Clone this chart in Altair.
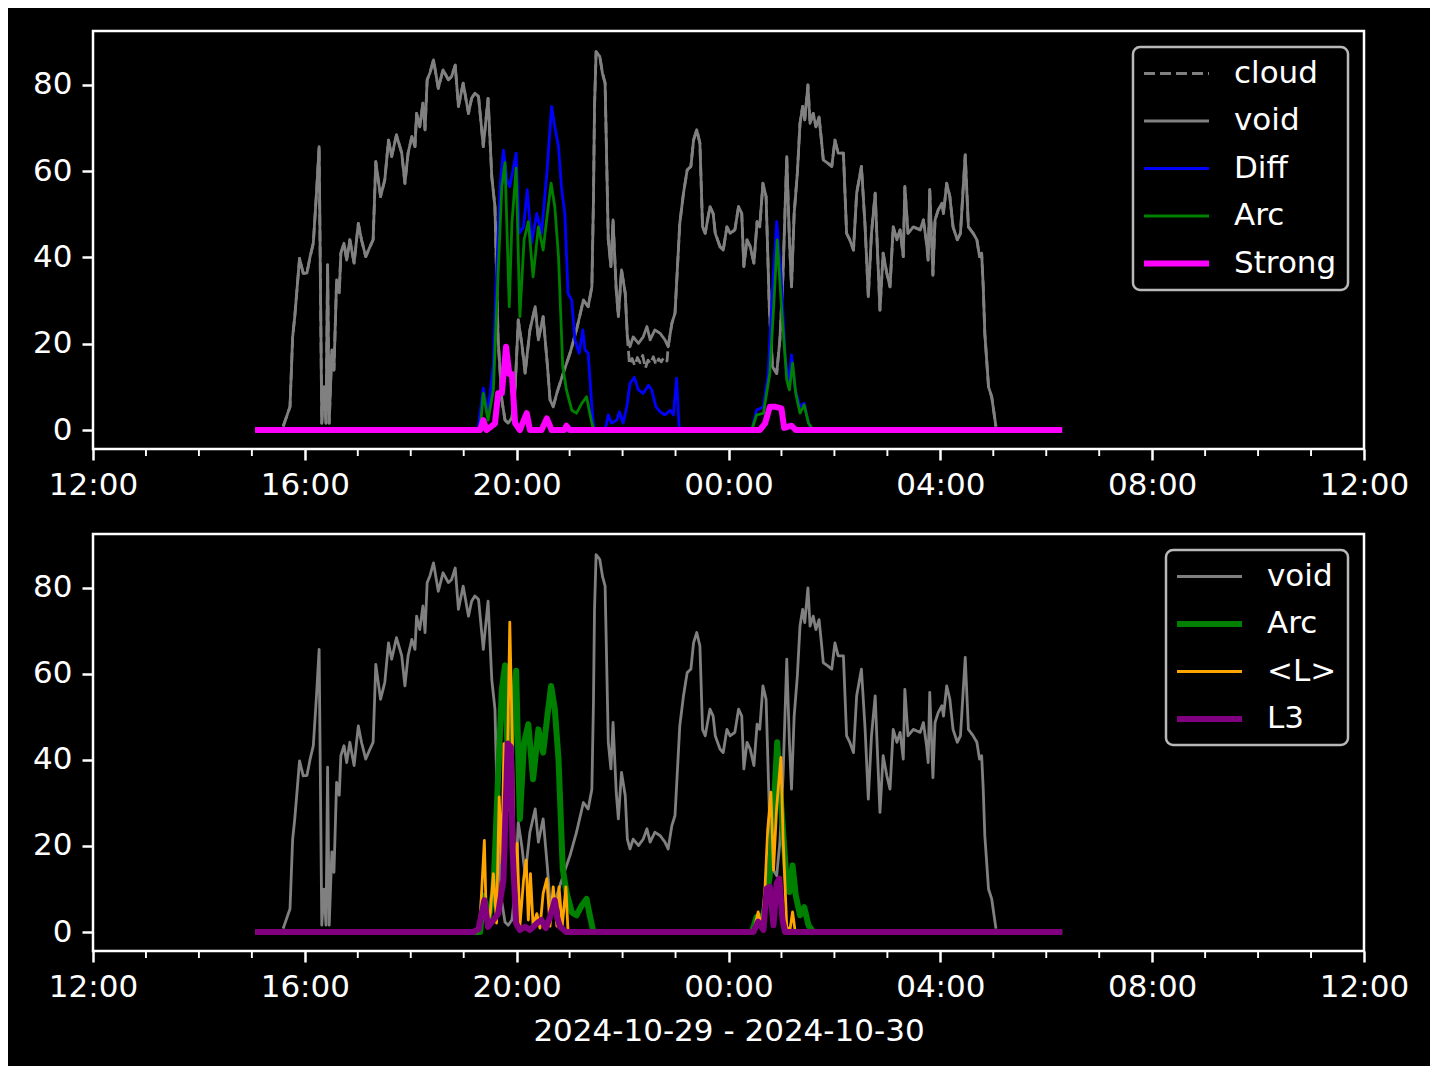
import altair as alt
import pandas as pd

# ---------------- data (hours since 2024-10-29 00:00, values) ----------------
void_h = [15.59, 15.72, 15.77, 15.81, 15.90, 15.97, 16.04, 16.10, 16.16, 16.22,
          16.27, 16.32, 16.36, 16.40, 16.43, 16.46, 16.51, 16.55, 16.60, 16.65,
          16.68, 16.74, 16.79, 16.85, 16.93, 17.01, 17.07, 17.15, 17.23, 17.29,
          17.34, 17.43, 17.51, 17.58, 17.64, 17.73, 17.83, 17.89, 17.95, 18.02,
          18.08, 18.11, 18.17, 18.23, 18.27, 18.31, 18.36, 18.43, 18.52, 18.61,
          18.71, 18.77, 18.84, 18.90, 18.99, 19.09, 19.15, 19.21, 19.28, 19.37,
          19.46, 19.53, 19.59, 19.65, 19.72, 19.78, 19.84, 19.91, 19.97, 20.03,
          20.10, 20.16, 20.25, 20.35, 20.41, 20.50, 20.58, 20.63, 20.69, 20.76,
          20.88, 21.01, 21.13, 21.26, 21.35, 21.42, 21.45, 21.47, 21.50, 21.57,
          21.62, 21.67, 21.73, 21.78, 21.82, 21.88, 21.92, 21.98, 22.05, 22.09,
          22.14, 22.20, 22.30, 22.39, 22.46, 22.52, 22.61, 22.71, 22.80, 22.86,
          22.93, 22.99, 23.03, 23.08, 23.15, 23.22, 23.29, 23.34, 23.40, 23.46,
          23.51, 23.56, 23.65, 23.71, 23.75, 23.84, 23.90, 23.97, 24.03, 24.12,
          24.19, 24.25, 24.29, 24.35, 24.41, 24.48, 24.54, 24.59, 24.65, 24.71,
          24.77, 24.83, 24.91, 24.97, 25.03, 25.10, 25.15, 25.19, 25.24, 25.30,
          25.35, 25.40, 25.44, 25.50, 25.54, 25.60, 25.65, 25.71, 25.76, 25.79,
          25.88, 25.95, 26.01, 26.07, 26.17, 26.23, 26.29, 26.36, 26.42, 26.51,
          26.58, 26.64, 26.70, 26.77, 26.81, 26.86, 26.92, 26.99, 27.05, 27.11,
          27.18, 27.24, 27.30, 27.33, 27.39, 27.49, 27.62, 27.68, 27.74, 27.77,
          27.80, 27.86, 27.90, 27.96, 28.03, 28.06, 28.12, 28.18, 28.24, 28.32,
          28.38, 28.47, 28.53, 28.62, 28.69, 28.74, 28.78, 28.81, 28.84, 28.91,
          28.97, 29.05]
void_v = [0.8, 5.4, 21.6, 26.3, 39.8, 36.3, 36.4, 40.2, 43.3, 54.9,
          65.7, 1.6, 10.0, 1.6, 38.3, 1.6, 18.6, 13.9, 34.8, 31.8,
          41.0, 43.3, 39.4, 44.1, 38.7, 47.9, 44.1, 40.2, 42.5, 44.1,
          62.2, 54.1, 58.0, 67.2, 63.4, 68.4, 64.2, 57.2, 64.2, 68.0,
          65.7, 73.4, 70.3, 75.8, 69.6, 81.2, 82.7, 85.8, 79.2, 83.5,
          81.2, 81.9, 84.6, 75.0, 80.4, 73.4, 76.9, 78.1, 77.3, 65.7,
          76.9, 58.7, 51.8, 20.9, 7.0, 2.3, 1.6, 2.8, 9.3, 25.5,
          19.7, 13.2, 23.2, 28.6, 20.9, 26.3, 15.1, 7.0, 5.4, 8.6,
          13.2, 17.9, 23.2, 30.1, 28.6, 33.2, 53.3, 75.0, 87.7, 86.6,
          82.7, 80.4, 44.1, 37.9, 48.7, 32.5, 26.3, 37.1, 31.7, 21.6,
          19.3, 21.6, 20.1, 21.6, 24.0, 20.9, 23.2, 22.4, 20.9, 19.3,
          24.7, 27.1, 36.3, 47.9, 54.9, 60.3, 61.1, 67.2, 69.6, 66.5,
          47.1, 45.6, 51.8, 50.2, 45.6, 42.5, 41.7, 47.1, 45.6, 46.4,
          51.8, 50.2, 37.9, 44.1, 42.5, 38.7, 48.3, 47.1, 57.2, 54.1,
          28.6, 14.7, 13.1, 20.9, 36.3, 63.4, 44.1, 33.2, 50.2, 59.5,
          71.1, 75.0, 71.9, 80.0, 71.1, 73.4, 70.3, 72.6, 66.5, 62.6,
          61.8, 61.1, 67.2, 64.2, 64.2, 45.6, 44.1, 41.7, 54.9, 61.1,
          47.1, 30.9, 45.6, 54.9, 42.5, 27.8, 41.0, 36.3, 33.2, 47.1,
          44.1, 46.4, 40.2, 56.4, 45.6, 47.1, 46.4, 48.7, 43.3, 39.4,
          55.7, 35.9, 48.7, 51.0, 52.6, 50.2, 57.2, 54.1, 47.1, 44.1,
          45.6, 63.8, 47.1, 45.6, 44.1, 40.2, 41.0, 33.2, 22.4, 10.0,
          7.7, 0.8]

# cloud differs from void only in this window (elsewhere it coincides with void)
cloud_seg_h = [22.13, 22.18, 22.23, 22.28, 22.33, 22.38, 22.43, 22.48,
               22.53, 22.58, 22.63, 22.68, 22.73, 22.78, 22.84]
cloud_seg_v = [15.2, 16.6, 14.9, 16.8, 15.6, 17.3, 14.3, 16.2,
               15.4, 17.0, 15.1, 16.5, 15.8, 16.9, 16.0]

diff_h = [15.06, 19.06, 19.27, 19.37, 19.46, 19.56, 19.62, 19.69, 19.75, 19.82,
          19.87, 19.99, 20.05, 20.13, 20.20, 20.28, 20.38, 20.47, 20.57, 20.66,
          20.72, 20.79, 20.85, 20.91, 20.97, 21.04, 21.10, 21.18, 21.25, 21.29,
          21.35, 21.42, 21.46, 21.67, 21.73, 21.79, 21.89, 21.94, 22.01, 22.08,
          22.14, 22.22, 22.30, 22.39, 22.49, 22.55, 22.63, 22.71, 22.80, 22.90,
          22.96, 23.02, 23.07, 24.44, 24.53, 24.66, 24.75, 24.83, 24.91, 24.99,
          25.07, 25.13, 25.19, 25.26, 25.35, 25.43, 25.51, 25.57, 30.30]
diff_v = [0, 0, 0, 9.7, 3.9, 15.5, 36.3, 57.2, 64.9, 58.0,
          56.4, 64.2, 45.6, 47.1, 55.7, 43.3, 50.2, 45.6, 59.5, 75.0,
          70.3, 65.7, 55.7, 50.2, 31.7, 30.1, 20.9, 17.8, 23.2, 18.6,
          17.8, 5.4, 0, 0, 3.5, 1.6, 2.3, 4.2, 1.6, 5.4,
          10.8, 12.2, 9.3, 8.5, 10.4, 9.3, 5.4, 4.2, 3.5, 4.6,
          3.5, 12.0, 0, 0, 4.6, 5.4, 13.1, 32.5, 48.3, 36.3,
          17.0, 10.8, 17.4, 9.3, 5.4, 6.2, 1.6, 0, 0]

arc_h = [15.06, 19.31, 19.37, 19.46, 19.56, 19.65, 19.72, 19.78, 19.86, 19.91,
         19.99, 20.06, 20.14, 20.22, 20.31, 20.41, 20.50, 20.58, 20.65, 20.72,
         20.79, 20.87, 20.94, 21.04, 21.13, 21.23, 21.32, 21.38, 21.45, 24.44,
         24.53, 24.66, 24.78, 24.86, 24.92, 25.00, 25.10, 25.15, 25.21, 25.27,
         25.35, 25.43, 25.51, 25.60, 30.30]
arc_v = [0, 0, 8.5, 2.3, 9.3, 36.3, 56.4, 62.0, 28.6, 47.9,
         60.7, 26.3, 44.1, 48.3, 35.5, 47.1, 41.7, 50.2, 57.2, 51.8,
         40.2, 14.7, 9.3, 4.6, 3.9, 6.2, 7.7, 3.9, 0, 0,
         3.5, 3.9, 13.1, 30.1, 44.1, 28.6, 11.6, 9.3, 15.5, 8.5,
         3.9, 5.8, 1.6, 0, 0]

strong_h = [15.06, 19.31, 19.37, 19.43, 19.59, 19.65, 19.72, 19.80, 19.86, 19.91,
            19.97, 20.06, 20.19, 20.25, 20.47, 20.57, 20.66, 20.90, 20.94, 21.00,
            24.59, 24.69, 24.78, 24.88, 25.00, 25.05, 25.19, 25.27, 30.30]
strong_v = [0, 0, 2.3, 0, 1.5, 8.5, 8.5, 19.3, 13.0, 13.0,
            1.6, 0, 3.9, 0, 0, 2.7, 0, 0, 1.0, 0,
            0, 1.5, 5.4, 5.4, 5.0, 0.5, 1.0, 0, 0]

lavg_h = [15.06, 19.25, 19.31, 19.39, 19.43, 19.50, 19.56, 19.62, 19.67, 19.72,
          19.76, 19.81, 19.87, 19.92, 19.97, 20.01, 20.06, 20.13, 20.18, 20.22,
          20.26, 20.31, 20.38, 20.44, 20.50, 20.57, 20.63, 20.69, 20.76, 20.80,
          20.86, 20.93, 20.97, 24.47, 24.56, 24.63, 24.69, 24.74, 24.80, 24.85,
          24.91, 24.99, 25.03, 25.10, 25.16, 25.21, 25.26, 30.30]
lavg_v = [0, 0, 2.8, 21.3, 1.2, 4.3, 13.6, 2.1, 31.4, 15.9,
          43.8, 27.5, 72.0, 43.0, 4.3, 20.6, 1.2, 12.1, 16.7, 2.8,
          13.6, 1.4, 4.3, 0.9, 9.0, 12.4, 1.4, 10.5, 1.4, 10.5,
          1.4, 10.5, 0, 0, 4.7, 0.9, 10.5, 23.7, 32.5, 14.4,
          29.1, 40.6, 22.1, 1.2, 0.5, 4.7, 0, 0]

l3_h = [15.06, 19.18, 19.28, 19.39, 19.46, 19.56, 19.65, 19.75, 19.83, 19.89,
        19.92, 19.99, 20.06, 20.16, 20.25, 20.38, 20.47, 20.55, 20.63, 20.72,
        20.77, 20.82, 20.94, 24.47, 24.56, 24.66, 24.72, 24.78, 24.85, 24.91,
        24.96, 25.02, 25.07, 30.30]
l3_v = [0, 0, 0.7, 7.4, 1.2, 2.8, 4.3, 12.1, 43.8, 43.0,
        19.8, 2.0, 0.5, 1.2, 0.5, 2.0, 2.8, 0.9, 3.5, 7.4,
        3.2, 1.2, 0, 0, 2.4, 0.5, 10.1, 10.5, 1.6, 11.3,
        12.4, 2.8, 0, 0]

major_hours = [12, 16, 20, 24, 28, 32, 36]
minor_hours = [13, 14, 15, 17, 18, 19, 21, 22, 23, 25, 26, 27, 29, 30, 31, 33, 34, 35]
y_ticks = [0, 20, 40, 60, 80]

top_series = ["cloud", "void", "Diff", "Arc", "Strong"]
top_colors = ["#808080", "#808080", "#0000ff", "#008000", "#ff00ff"]
top_dash = [[11, 5], [1, 0], [1, 0], [1, 0], [1, 0]]
top_width = [2.8, 2.8, 2.8, 2.8, 6.0]

bot_series = ["void", "Arc", "<L>", "L3"]
bot_colors = ["#808080", "#008000", "#ffa500", "#800080"]
bot_dash = [[1, 0], [1, 0], [1, 0], [1, 0]]
bot_width = [2.8, 6.0, 2.8, 6.0]

x_title = "2024-10-29 - 2024-10-30"

# ---------------- build tables ----------------
BASE = pd.Timestamp("2024-10-29")


def ts(hours):
    return [(BASE + pd.to_timedelta(h, unit="h")).strftime("%Y-%m-%dT%H:%M:%S") for h in hours]


def frame(name, hours, values):
    return pd.DataFrame({"time": ts(hours), "value": values, "series": name})


cloud_pts = ([(h, v) for h, v in zip(void_h, void_v) if h <= 22.09]
             + list(zip(cloud_seg_h, cloud_seg_v))
             + [(h, v) for h, v in zip(void_h, void_v) if h >= 22.86])
cloud_h = [p[0] for p in cloud_pts]
cloud_v = [p[1] for p in cloud_pts]

top_df = pd.concat([
    frame("cloud", cloud_h, cloud_v),
    frame("void", void_h, void_v),
    frame("Diff", diff_h, diff_v),
    frame("Arc", arc_h, arc_v),
    frame("Strong", strong_h, strong_v),
], ignore_index=True)

bot_df = pd.concat([
    frame("void", void_h, void_v),
    frame("Arc", arc_h, arc_v),
    frame("<L>", lavg_h, lavg_v),
    frame("L3", l3_h, l3_v),
], ignore_index=True)

minor_df = pd.DataFrame({"time": ts(minor_hours)})


def dt(h):
    t = BASE + pd.to_timedelta(h, unit="h")
    return alt.DateTime(year=t.year, month=t.month, date=t.day, hours=t.hour, minutes=t.minute)


FONT = "DejaVu Sans"
FS = 31
W = 1271


def panel(df, series, colors, dashes, widths, height, title):
    xscale = alt.Scale(domain=[dt(12), dt(36)])
    xaxis_kw = dict(values=[dt(h) for h in major_hours], format="%H:%M", formatType="time",
                    labelFlush=False, labelOverlap=False, minExtent=55, maxExtent=55)
    if title:
        xaxis = alt.Axis(title=title, titleFontSize=FS, titleFont=FONT, titleColor="white",
                         titleFontWeight="normal", titlePadding=10, **xaxis_kw)
    else:
        xaxis = alt.Axis(title=None, **xaxis_kw)
    yscale = alt.Scale(domain=[-4.4, 92.5], nice=False, zero=False)
    yaxis = alt.Axis(title=None, values=y_ticks, minExtent=80, maxExtent=80)
    legend = alt.Legend(title=None, orient="top-right", offset=16, padding=11,
                        fillColor="black", strokeColor="#b8b8b8",
                        cornerRadius=7, symbolType="M-3,0H3", symbolSize=469.4,
                        symbolOffset=17,
                        labelFontSize=FS, labelFont=FONT, labelColor="white",
                        labelOffset=42, rowPadding=15.5)
    cscale = alt.Scale(domain=series, range=colors)
    dscale = alt.Scale(domain=series, range=dashes)
    wscale = alt.Scale(type="ordinal", domain=series, range=widths)
    layers = []
    for s in series:
        layers.append(
            alt.Chart(df).transform_filter(alt.datum.series == s)
            .mark_line(strokeJoin="round", strokeCap="butt")
            .encode(
                x=alt.X("time:T", scale=xscale, axis=xaxis),
                y=alt.Y("value:Q", scale=yscale, axis=yaxis),
                color=alt.Color("series:N", scale=cscale, legend=legend),
                strokeDash=alt.StrokeDash("series:N", scale=dscale, legend=legend),
                strokeWidth=alt.StrokeWidth("series:N", scale=wscale, legend=legend),
            )
        )
    minor = alt.Chart(minor_df).mark_rule(color="white", strokeWidth=1.9).encode(
        x=alt.X("time:T", scale=xscale, axis=xaxis),
        y=alt.value(height),
        y2=alt.value(height + 7),
    )
    return alt.layer(*layers, minor).properties(width=W, height=height)


top = panel(top_df, top_series, top_colors, top_dash, top_width, 418, None)
bottom = panel(bot_df, bot_series, bot_colors, bot_dash, bot_width, 417, x_title)

chart = (
    alt.vconcat(top, bottom, spacing=26)
    .resolve_scale(color="independent", strokeDash="independent", strokeWidth="independent")
    .properties(background="black", padding={"left": 3, "top": 21, "right": 20, "bottom": 18})
    .configure(font=FONT)
    .configure_view(stroke="white", strokeWidth=2.5)
    .configure_legend(strokeWidth=2.5)
    .configure_axis(labelFontSize=FS, labelFont=FONT, labelColor="white", tickColor="white",
                    tickWidth=2.5, tickSize=11, labelPadding=10, grid=False, domain=False)
)

chart.save("out.html", embed_options={"renderer": "svg", "actions": False})
